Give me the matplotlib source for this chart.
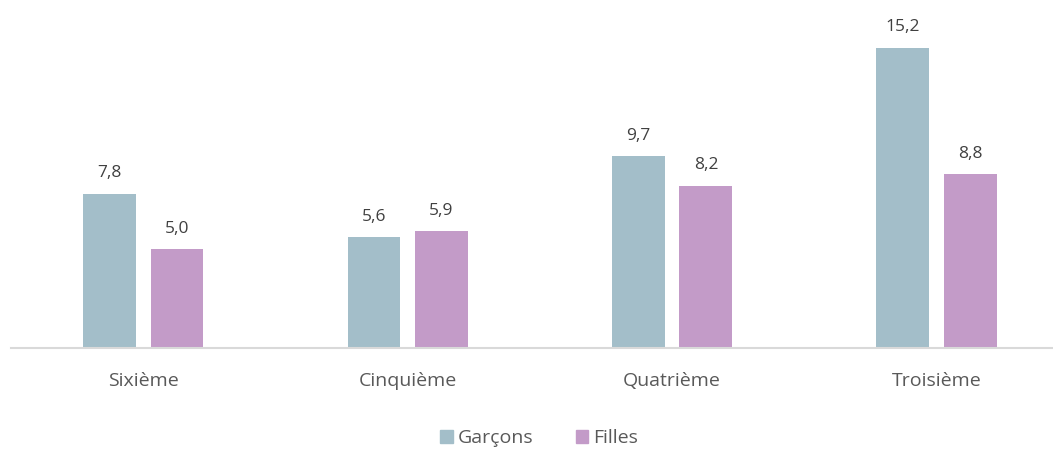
import matplotlib
matplotlib.use('Agg')
import matplotlib.pyplot as plt
import numpy as np
from matplotlib.patches import Patch

niveaux = ['Sixième', 'Cinquième', 'Quatrième', 'Troisième']
garcons = [7.8, 5.6, 9.7, 15.2]
filles = [5.0, 5.9, 8.2, 8.8]

c_garcons = '#A3BEC9'
c_filles = '#C39BC8'

plt.rcParams['font.family'] = ['Open Sans', 'DejaVu Sans']

fig = plt.figure(figsize=(10.53, 4.5), dpi=100)
ax = fig.add_axes([11 / 1053, 102 / 450, 1 - 11 / 1053, 348 / 450])

x = np.arange(len(niveaux))
w = 0.2
off = 0.1275
b1 = ax.bar(x - off, garcons, w, color=c_garcons)
b2 = ax.bar(x + off, filles, w, color=c_filles)

for bars, vals in ((b1, garcons), (b2, filles)):
    for rect, v in zip(bars, vals):
        ax.annotate(f'{v:.1f}'.replace('.', ','),
                    (rect.get_x() + rect.get_width() / 2, v),
                    xytext=(0, 9), textcoords='offset points',
                    ha='center', va='bottom', fontsize=12.5, color='#404040')

ax.set_xlim(-0.5, 3.44)
ax.set_ylim(0, 17.61)
ax.set_yticks([])
ax.set_xticks(x)
ax.set_xticklabels(niveaux, fontsize=14, color='#595959')
ax.tick_params(axis='x', length=0, pad=17)
for s in ('top', 'right', 'left'):
    ax.spines[s].set_visible(False)
ax.spines['bottom'].set_color('#D9D9D9')
ax.spines['bottom'].set_linewidth(1.5)

handles = [Patch(color=c_garcons, label='Garçons'),
           Patch(color=c_filles, label='Filles')]
leg = fig.legend(handles=handles, loc='center', ncol=2, frameon=False,
                 fontsize=14, labelcolor='#595959',
                 handlelength=0.65, handleheight=0.65, handletextpad=0.25,
                 columnspacing=2.2,
                 bbox_to_anchor=(539 / 1053, 1 - 438 / 450),
                 bbox_transform=fig.transFigure)

fig.savefig('out.png', dpi=100)
